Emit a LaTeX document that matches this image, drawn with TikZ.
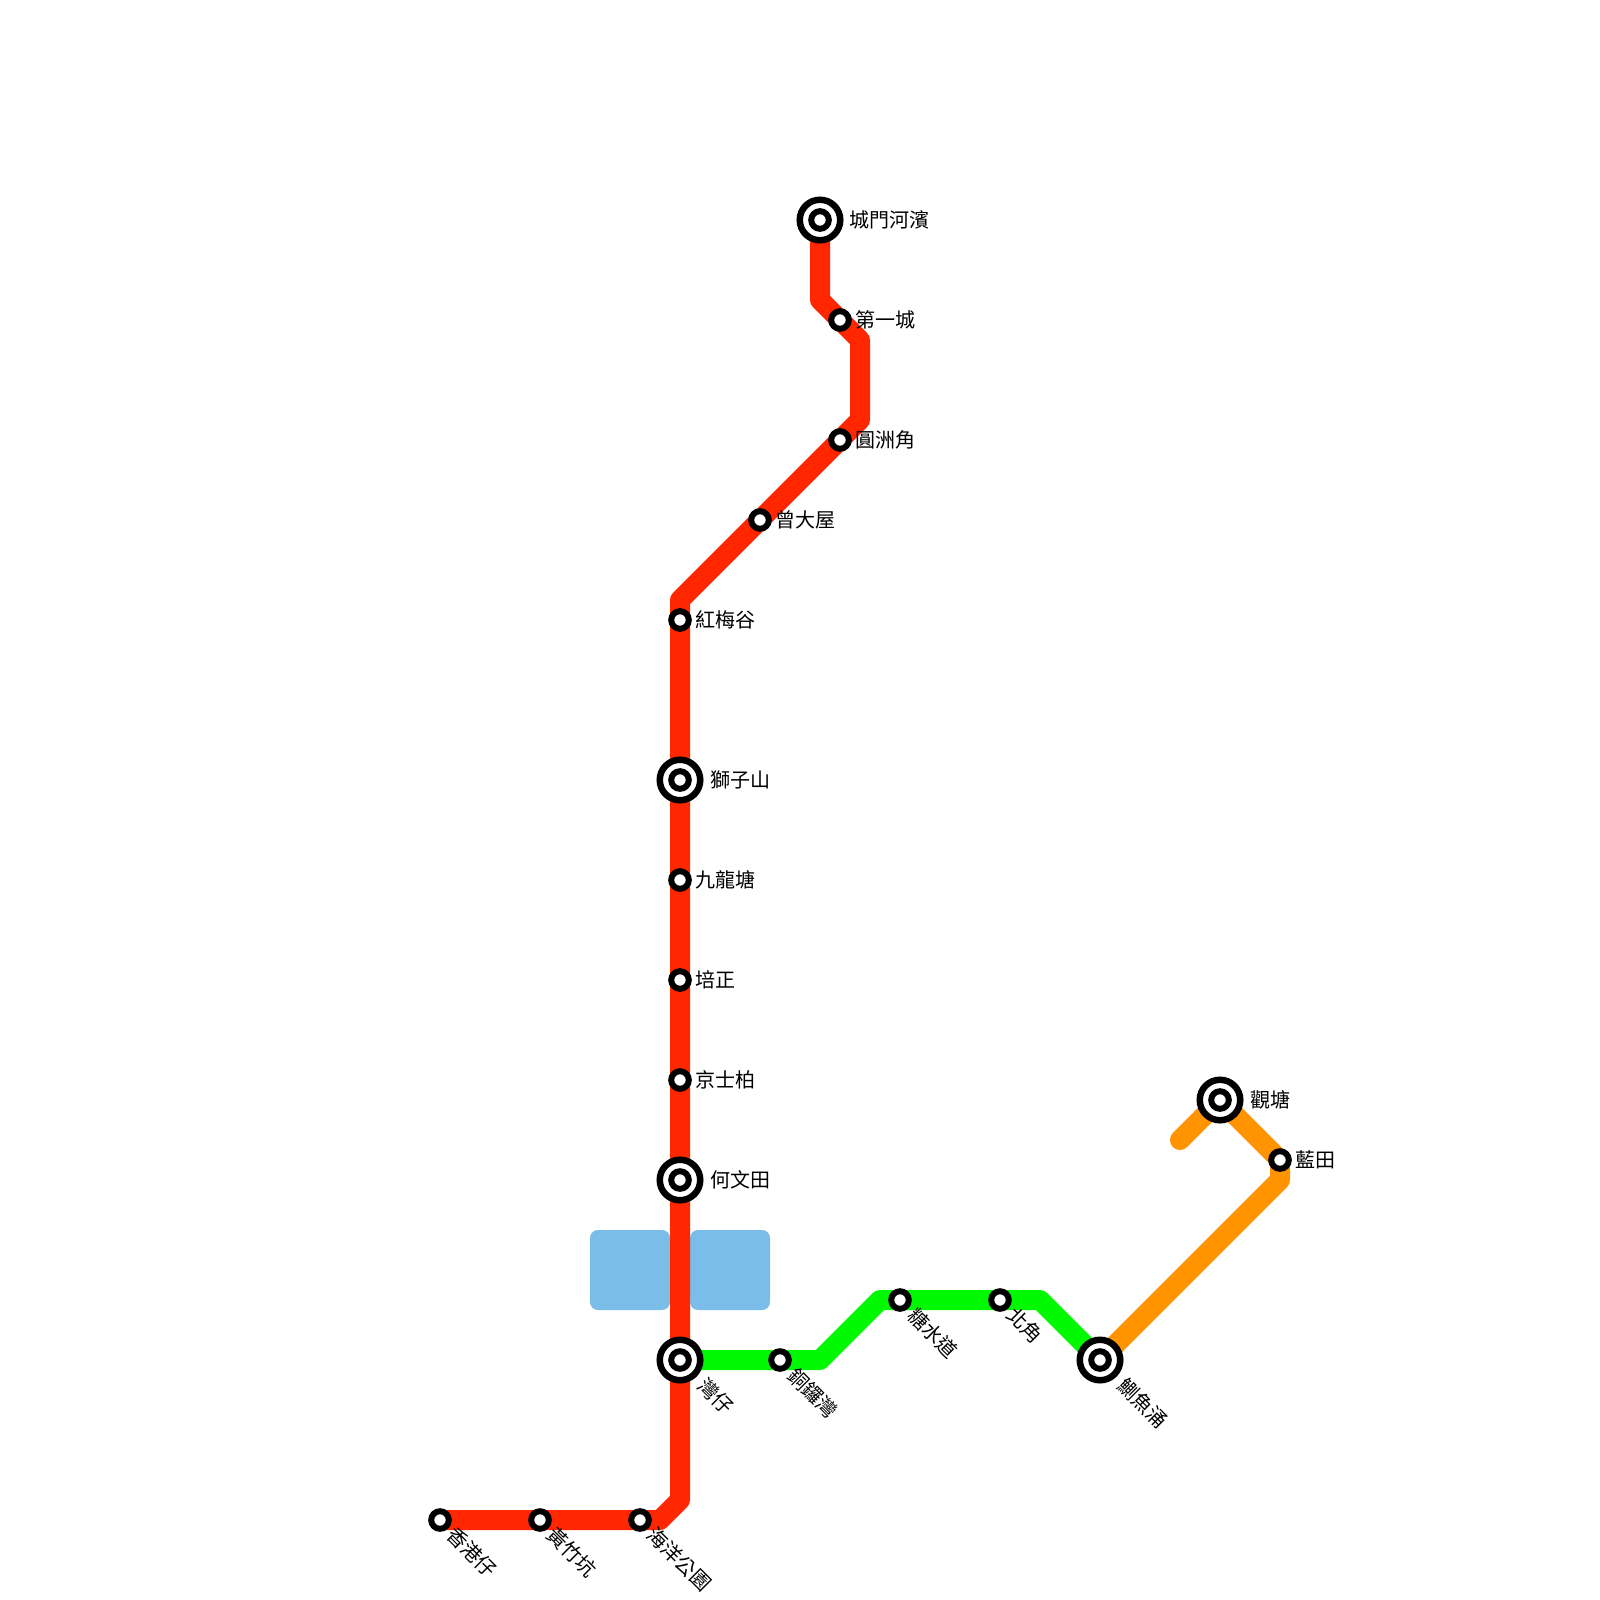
\documentclass[tikz,border=0pt]{standalone}
\usepackage{fontspec}
\setmainfont{Noto Sans CJK TC}
\definecolor{redline}{HTML}{FF2600}
\definecolor{greenline}{HTML}{00F900}
\definecolor{orangeline}{HTML}{FF9300}
\definecolor{water}{HTML}{79BDE8}
\tikzset{
 every node/.style={font=\fontsize{20}{24}\selectfont, inner sep=0pt, outer sep=0pt},
 route/.style={line width=20pt, line join=round, line cap=round},
 smallstn/.style={circle, draw=black, fill=white, line width=6pt, minimum size=17.6pt},
 bigstn/.style={circle, draw=black, fill=white, line width=6.5pt, minimum size=40.5pt},
 hlabel/.style={anchor=west},
 dlabel/.style={anchor=west, rotate=-45},
 waterbox/.style={fill=water, rounded corners=8pt},
}
\begin{document}
\begin{tikzpicture}[x=1pt,y=-1pt]
\useasboundingbox (0,0) rectangle (1600,1600);
% water
\fill[waterbox] (590,1230) rectangle (670,1310);
\fill[waterbox] (690,1230) rectangle (770,1310);
% bends and route ends
\coordinate (cmhb) at (820,220);
\coordinate (r1) at (820,300);
\coordinate (r2) at (860,340);
\coordinate (r3) at (860,420);
\coordinate (r4) at (680,600);
\coordinate (r5) at (680,1500);
\coordinate (r6) at (660,1520);
\coordinate (xgz) at (440,1520);
\coordinate (wz) at (680,1360);
\coordinate (g1) at (820,1360);
\coordinate (g2) at (880,1300);
\coordinate (g3) at (1040,1300);
\coordinate (zyc) at (1100,1360);
\coordinate (o1) at (1280,1180);
\coordinate (lt) at (1280,1160);
\coordinate (gt) at (1220,1100);
\coordinate (o2) at (1180,1140);
% routes
\draw[route, greenline] (wz) -- (g1) -- (g2) -- (g3) -- (zyc);
\draw[route, orangeline] (zyc) -- (o1) -- (lt) -- (gt) -- (o2);
\draw[route, redline] (cmhb) -- (r1) -- (r2) -- (r3) -- (r4) -- (r5) -- (r6) -- (xgz);
% stations
\foreach \n/\x/\y in {dyc/840/320,yzj/840/440,zds/760/520,hmg/680/620,jlt/680/880,pz/680/980,jsb/680/1080,hygy/640/1520,hzk/540/1520,xgz/440/1520,tlw/780/1360,tsd/900/1300,bj/1000/1300,lt/1280/1160}
  \node[smallstn] (\n top) at (\x,\y) {};
\foreach \n/\x/\y in {cmhb/820/220,szs/680/780,hwt/680/1180,wz/680/1360,zyc/1100/1360,gt/1220/1100}{
  \node[bigstn] (\n top) at (\x,\y) {};
  \node[smallstn] (\n core) at (\x,\y) {};
}
% labels
\node[hlabel] (l1) at (849.5,220) {城門河濱};
\node[hlabel] (l2) at (855,320) {第一城};
\node[hlabel] (l3) at (855,440) {圓洲角};
\node[hlabel] (l4) at (775,520) {曾大屋};
\node[hlabel] (l5) at (695,620) {紅梅谷};
\node[hlabel] (l6) at (710,780) {獅子山};
\node[hlabel] (l7) at (695,880) {九龍塘};
\node[hlabel] (l8) at (695,980) {培正};
\node[hlabel] (l9) at (695,1080) {京士柏};
\node[hlabel] (l10) at (710,1180) {何文田};
\node[hlabel] (l11) at (1250,1100) {觀塘};
\node[hlabel] (l12) at (1295,1160) {藍田};
\node[dlabel] (l13) at (702,1382) {灣仔};
\node[dlabel] (l14) at (792,1372) {銅鑼灣};
\node[dlabel] (l15) at (912,1312) {糖水道};
\node[dlabel] (l16) at (1011,1311) {北角};
\node[dlabel] (l17) at (1122,1382) {鰂魚涌};
\node[dlabel] (l18) at (651,1531) {海洋公園};
\node[dlabel] (l19) at (551,1531) {黃竹坑};
\node[dlabel] (l20) at (451,1531) {香港仔};
\end{tikzpicture}
\end{document}
